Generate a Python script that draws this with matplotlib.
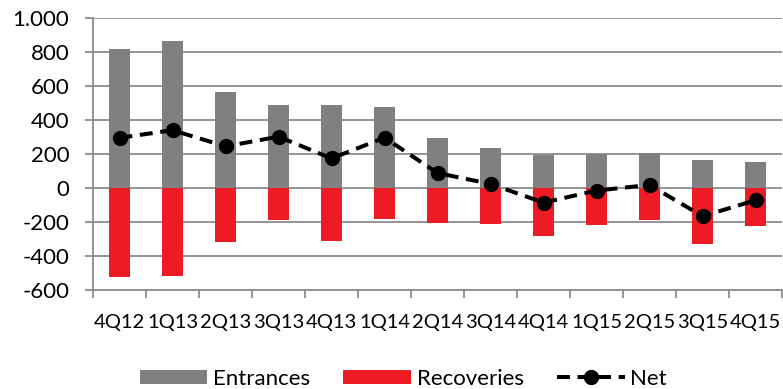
import matplotlib.pyplot as plt
from matplotlib.ticker import FuncFormatter, FixedLocator
from matplotlib.lines import Line2D
from matplotlib.patches import Patch
import numpy as np

plt.rcParams['font.family'] = ['Lato', 'DejaVu Sans']

quarters = ['4Q12', '1Q13', '2Q13', '3Q13', '4Q13', '1Q14', '2Q14',
            '3Q14', '4Q14', '1Q15', '2Q15', '3Q15', '4Q15']
entrances = [815, 862, 565, 490, 490, 476, 294, 235, 196, 202, 206, 165, 155]
recoveries = [-524, -520, -320, -188, -314, -182, -206, -210, -281, -216, -186, -329, -226]
net = [295, 340, 245, 302, 174, 296, 88, 24, -86, -15, 18, -166, -72]

grey = '#808080'
red = '#ED1C24'
grid_col = '#8C8C8C'
net_style = dict(color='black', lw=2.9, ls=(0, (3.2, 1.9)), marker='o', markersize=10)

fig = plt.figure(figsize=(7.83, 3.89), dpi=100)
ax = fig.add_axes([0.1188, 0.2545, 0.8800, 0.6992])

x = np.arange(len(quarters))
ax.bar(x, entrances, width=0.4, color=grey, zorder=2)
ax.bar(x, recoveries, width=0.4, color=red, zorder=2)
ax.plot(x, net, zorder=3, **net_style)

ax.set_xlim(-0.5, len(quarters) - 0.5)
ax.set_ylim(-600, 1000)
ax.set_yticks(np.arange(-600, 1001, 200))
ax.yaxis.set_major_formatter(FuncFormatter(lambda v, p: f'{v:,.0f}'.replace(',', '.')))
ax.yaxis.grid(True, color=grid_col, lw=1.3, zorder=0)
ax.set_axisbelow(True)

# category labels centred on bars, tick marks between categories
ax.set_xticks(x)
ax.set_xticklabels(quarters)
ax.tick_params(axis='x', which='major', length=0, pad=17, labelsize=14.5)
ax.xaxis.set_minor_locator(FixedLocator(np.arange(-0.5, len(quarters), 1.0)))
ax.tick_params(axis='x', which='minor', length=6, width=1.3, color=grid_col)
ax.tick_params(axis='y', length=6, width=1.3, color=grid_col, pad=11, labelsize=16)

for side in ['top', 'right']:
    ax.spines[side].set_visible(False)
for side in ['left', 'bottom']:
    ax.spines[side].set_color(grid_col)
    ax.spines[side].set_linewidth(1.3)

handles = [
    Patch(facecolor=grey, label='Entrances'),
    Patch(facecolor=red, label='Recoveries'),
    Line2D([0], [0], label='Net', **net_style),
]
fig.legend(handles=handles, loc='center', bbox_to_anchor=(0.515, 0.026), ncol=3,
           frameon=False, fontsize=16, handlelength=3.05, handleheight=0.6,
           handletextpad=0.25, columnspacing=1.5, borderaxespad=0)

fig.savefig('out.png', dpi=100, facecolor='white')
